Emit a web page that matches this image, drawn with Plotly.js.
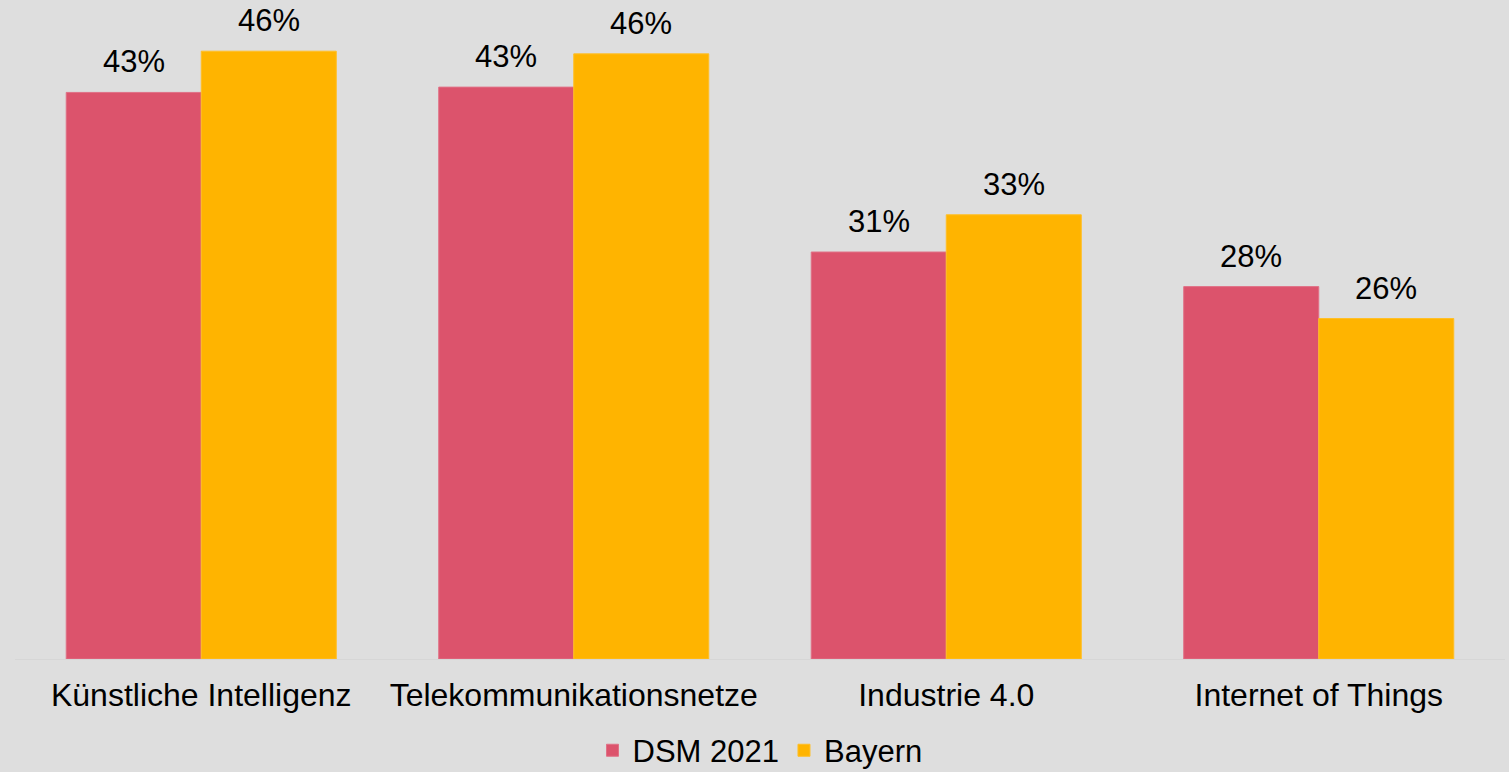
<!DOCTYPE html>
<html>
<head>
<meta charset="utf-8">
<script src="https://cdn.plot.ly/plotly-3.0.1.min.js"></script>
<style>html,body{margin:0;padding:0;background:#dedede;}#chart{width:1509px;height:772px;}</style>
</head>
<body>
<div id="chart"></div>
<script>
const categories = ["Künstliche Intelligenz", "Telekommunikationsnetze", "Industrie 4.0", "Internet of Things"];
const dsmValues = [42.6, 43.0, 30.6, 28.0];
const bayernValues = [45.7, 45.5, 33.4, 25.6];
const dsmLabels = ["43%", "43%", "31%", "28%"];
const bayernLabels = ["46%", "46%", "33%", "26%"];
const seriesNames = ["DSM 2021", "Bayern"];

const FONT = "Liberation Sans, Arial, sans-serif";
const colDSM = "#dc536c";
const colBay = "#ffb400";

const traces = [
  {type: "bar", name: seriesNames[0], x: categories, y: dsmValues,
   marker: {color: colDSM, line: {color: "#e07186", width: 1}}, hoverinfo: "none"},
  {type: "bar", name: seriesNames[1], x: categories, y: bayernValues,
   marker: {color: colBay, line: {color: "#ffbf26", width: 1}}, hoverinfo: "none"}
];

const annotations = [];
categories.forEach((c, i) => {
  annotations.push({x: c, y: dsmValues[i], xref: "x", yref: "y", text: dsmLabels[i], showarrow: false,
    xanchor: "center", yanchor: "bottom", xshift: -67.5, yshift: 11, font: {family: FONT, size: 31, color: "#000"}});
  annotations.push({x: c, y: bayernValues[i], xref: "x", yref: "y", text: bayernLabels[i], showarrow: false,
    xanchor: "center", yanchor: "bottom", xshift: 67.5, yshift: 11, font: {family: FONT, size: 31, color: "#000"}});
});

const layout = {
  width: 1509, height: 772,
  paper_bgcolor: "#dedede", plot_bgcolor: "#dedede",
  margin: {l: 15, r: 4, t: 0, b: 113, autoexpand: false},
  barmode: "group", bargap: 0.275, bargroupgap: 0,
  font: {family: FONT, size: 31, color: "#000"},
  xaxis: {showgrid: false, zeroline: false, showline: true, linecolor: "#d6d6d6", linewidth: 1,
          ticks: "", tickfont: {family: FONT, size: 32, color: "#000"}, ticklabelstandoff: 8, automargin: false},
  yaxis: {range: [0, 49.55], showgrid: false, zeroline: false, showticklabels: false, ticks: "", automargin: false},
  showlegend: true,
  legend: {orientation: "h", x: 0.5, xanchor: "center", y: -0.139, yanchor: "middle",
           font: {family: FONT, size: 31, color: "#000"}, bgcolor: "rgba(0,0,0,0)", traceorder: "normal"},
  annotations: annotations
};

Plotly.newPlot("chart", traces, layout, {displayModeBar: false, staticPlot: true});
</script>
</body>
</html>
